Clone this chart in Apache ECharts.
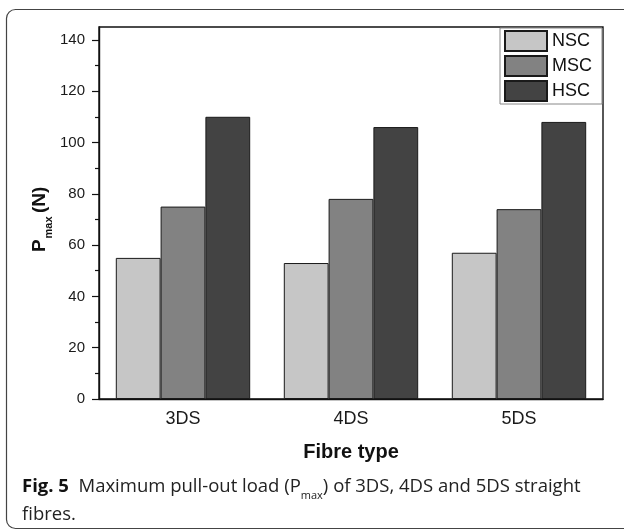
<!DOCTYPE html>
<html>
<head>
<meta charset="utf-8">
<script src="https://cdn.jsdelivr.net/npm/echarts@6/dist/echarts.min.js"></script>
<style>
html,body{margin:0;padding:0;background:#fff;}
#c{width:624px;height:530px;}
</style>
</head>
<body>
<div id="c"></div>
<script>
const categories = ['3DS', '4DS', '5DS'];
const seriesNames = ['NSC', 'MSC', 'HSC'];
const nscValues = [55, 53, 57];
const mscValues = [75, 78, 74];
const hscValues = [110, 106, 108];
const yTickLabels = [0, 20, 40, 60, 80, 100, 120, 140];
const yMinorTicks = [10, 30, 50, 70, 90, 110, 130];
const yMax = 145;

const colors = ['#c6c6c6', '#828282', '#434343'];
const seriesValues = [nscValues, mscValues, hscValues];
const axisFont = '"Liberation Sans", Arial, sans-serif';
const capFont = '"Open Sans", "Noto Sans", sans-serif';

const chart = echarts.init(document.getElementById('c'), null, {renderer: 'canvas'});
const option = {
  animation: false,
  backgroundColor: '#fff',
  grid: {left: 99, right: 21, top: 27, bottom: 131, show: true, borderColor: '#111', borderWidth: 1.4, backgroundColor: 'transparent'},
  legend: {
    data: seriesNames, orient: 'vertical', right: 22, top: 28,
    icon: 'rect', itemWidth: 42, itemHeight: 20, itemGap: 3,
    padding: [2, 10, 2, 4], borderColor: '#888', borderWidth: 1, backgroundColor: '#fff',
    textStyle: {fontFamily: axisFont, fontSize: 18, lineHeight: 20, color: '#111'}
  },
  xAxis: [{
    type: 'category', data: categories,
    axisLine: {lineStyle: {color: '#111', width: 1.4}},
    axisTick: {alignWithLabel: true, length: 6, lineStyle: {color: '#111', width: 1.2}},
    axisLabel: {fontFamily: axisFont, fontSize: 18, color: '#1a1a1a', margin: 11},
    name: 'Fibre type', nameLocation: 'middle', nameGap: 43,
    nameTextStyle: {fontFamily: axisFont, fontSize: 20, fontWeight: 'bold', color: '#111'}
  }, {
    type: 'category', data: categories, position: 'bottom',
    axisLine: {show: false},
    axisTick: {alignWithLabel: false, length: 3, lineStyle: {color: '#111', width: 1.2}},
    axisLabel: {show: false}
  }],
  yAxis: [{
    type: 'value', min: 0, max: yMax,
    splitLine: {show: false},
    axisLine: {show: true, lineStyle: {color: '#111', width: 1.4}},
    axisTick: {show: true, length: 7, customValues: yTickLabels, lineStyle: {color: '#111', width: 1.2}},
    axisLabel: {fontFamily: axisFont, fontSize: 15, color: '#1a1a1a', margin: 14, customValues: yTickLabels}
  }, {
    type: 'value', min: 0, max: yMax, position: 'left',
    splitLine: {show: false},
    axisLine: {show: false},
    axisTick: {show: true, length: 4, customValues: yMinorTicks, lineStyle: {color: '#111', width: 1.2}},
    axisLabel: {show: false}
  }],
  series: seriesNames.map((n, i) => ({
    name: n, type: 'bar', data: seriesValues[i],
    barGap: '0%', barCategoryGap: '20%',
    itemStyle: {color: colors[i], borderColor: '#1a1a1a', borderWidth: 1}
  })),
  graphic: [
    {type: 'rect', silent: true, shape: {x: 6.5, y: 9.5, width: 700, height: 519, r: 9},
     style: {fill: 'none', stroke: '#444', lineWidth: 1.2}},
    {type: 'group', x: 30, y: 252, rotation: Math.PI / 2, silent: true, children: [
      {type: 'text', x: 0, y: 0, style: {text: 'P', font: 'bold 19px ' + axisFont, fill: '#111', verticalAlign: 'top', align: 'left'}},
      {type: 'text', x: 13.5, y: 13, style: {text: 'max', font: 'bold 11px ' + axisFont, fill: '#111', verticalAlign: 'top', align: 'left'}},
      {type: 'text', x: 39, y: 0, style: {text: '(N)', font: 'bold 19px ' + axisFont, fill: '#111', verticalAlign: 'top', align: 'left'}}
    ]},
    {type: 'text', left: 22, top: 477, silent: true,
     style: {
       text: '{f|Fig. 5}{n|  Maximum pull-out load (P}{s|max}{n|) of 3DS, 4DS and 5DS straight}',
       rich: {
         f: {fontFamily: capFont, fontSize: 18.5, fontWeight: 'bold', fill: '#111', lineHeight: 22},
         n: {fontFamily: capFont, fontSize: 18.5, fill: '#222', lineHeight: 22},
         s: {fontFamily: capFont, fontSize: 11, fill: '#222', lineHeight: 12, verticalAlign: 'bottom', padding: [0, 0, -4, 0]}
       }
     }},
    {type: 'text', left: 22, top: 505, silent: true,
     style: {text: 'fibres.', font: '18.5px ' + capFont, fill: '#222'}}
  ]
};
chart.setOption(option);
</script>
</body>
</html>
